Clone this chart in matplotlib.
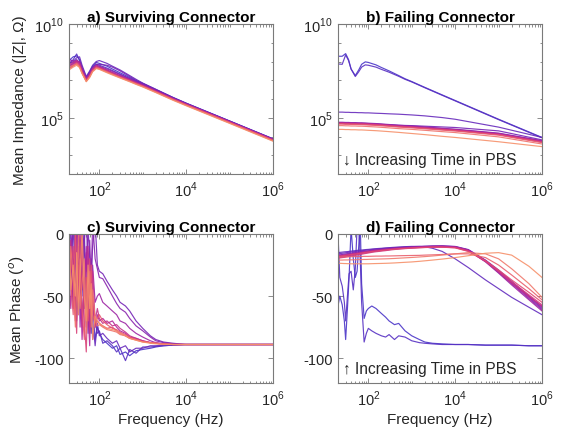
import numpy as np
import matplotlib
matplotlib.use("Agg")
import matplotlib.pyplot as plt
from matplotlib.colors import LinearSegmentedColormap
from matplotlib.ticker import FixedLocator, NullFormatter, FixedFormatter

plt.rcParams['font.family'] = ['Liberation Sans', 'DejaVu Sans']
plt.rcParams['axes.unicode_minus'] = False
plt.rcParams['mathtext.fontset'] = 'custom'
plt.rcParams['mathtext.rm'] = 'Liberation Sans'

# ---------------- data ----------------
F_MAG = [20, 25, 30, 35, 40, 50, 60, 70, 85, 100, 150, 200, 300, 500, 700,
         1e3, 2e3, 5e3, 1e4, 1e5, 1e6]

# log10(|Z|) surviving connector
A_LOGZ = [
    [8.05, 8.25, 8.30, 8.10, 7.70, 7.15, 7.45, 7.75, 7.95, 7.90, 7.75, 7.60, 7.40, 7.15, 6.98, 6.82, 6.50, 6.08, 5.78, 4.83, 3.88],
    [7.85, 8.10, 8.40, 8.05, 7.60, 7.10, 7.40, 7.70, 7.85, 7.80, 7.65, 7.52, 7.33, 7.10, 6.94, 6.78, 6.47, 6.05, 5.76, 4.82, 3.87],
    [8.15, 8.00, 8.20, 8.25, 7.80, 7.20, 7.50, 7.80, 8.00, 8.05, 7.90, 7.75, 7.55, 7.25, 7.05, 6.85, 6.52, 6.08, 5.77, 4.82, 3.86],
    [7.90, 7.95, 8.10, 7.95, 7.55, 7.05, 7.35, 7.65, 7.85, 7.85, 7.80, 7.70, 7.50, 7.20, 7.00, 6.83, 6.50, 6.06, 5.76, 4.81, 3.86],
    [7.75, 7.90, 8.05, 7.90, 7.50, 7.00, 7.30, 7.60, 7.80, 7.75, 7.60, 7.48, 7.30, 7.08, 6.92, 6.76, 6.45, 6.03, 5.74, 4.80, 3.85],
    [8.00, 8.05, 7.95, 8.00, 7.65, 7.10, 7.35, 7.65, 7.80, 7.72, 7.55, 7.42, 7.25, 7.05, 6.90, 6.75, 6.44, 6.02, 5.73, 4.79, 3.84],
    [7.70, 7.85, 8.00, 7.85, 7.45, 7.00, 7.25, 7.55, 7.75, 7.70, 7.52, 7.40, 7.22, 7.02, 6.88, 6.73, 6.43, 6.01, 5.72, 4.78, 3.83],
    [7.80, 7.95, 8.05, 7.90, 7.50, 7.05, 7.30, 7.60, 7.78, 7.68, 7.50, 7.38, 7.20, 7.00, 6.86, 6.71, 6.41, 6.00, 5.71, 4.77, 3.82],
    [7.65, 7.80, 7.95, 7.80, 7.45, 6.98, 7.22, 7.52, 7.70, 7.65, 7.48, 7.35, 7.18, 6.98, 6.84, 6.70, 6.40, 5.99, 5.70, 4.76, 3.81],
    [7.60, 7.75, 7.90, 7.75, 7.40, 6.95, 7.20, 7.50, 7.68, 7.62, 7.45, 7.33, 7.16, 6.96, 6.82, 6.68, 6.38, 5.97, 5.68, 4.74, 3.79],
    [7.70, 7.80, 7.85, 7.70, 7.38, 6.95, 7.18, 7.48, 7.65, 7.60, 7.43, 7.31, 7.14, 6.94, 6.80, 6.66, 6.36, 5.95, 5.66, 4.72, 3.77],
    [7.55, 7.70, 7.80, 7.68, 7.35, 6.92, 7.15, 7.45, 7.62, 7.58, 7.40, 7.28, 7.12, 6.92, 6.78, 6.64, 6.34, 5.93, 5.64, 4.70, 3.75],
]

# log10(|Z|) failing connector
B_LOGZ = [
    [8.28, 8.28, 8.42, 8.10, 7.60, 7.25, 7.55, 7.85, 7.98, 7.95, 7.82, 7.68, 7.50, 7.25, 7.08, 6.93, 6.62, 6.22, 5.92, 4.92, 3.95],
    [7.87, 7.85, 8.35, 8.05, 7.60, 7.20, 7.45, 7.70, 7.82, 7.80, 7.70, 7.58, 7.43, 7.21, 7.05, 6.91, 6.60, 6.20, 5.90, 4.90, 3.93],
    [5.30, 5.30, 5.29, 5.29, 5.28, 5.28, 5.27, 5.27, 5.26, 5.26, 5.24, 5.23, 5.21, 5.19, 5.17, 5.15, 5.10, 5.01, 4.92, 4.50, 3.95],
    [4.70, 4.70, 4.69, 4.69, 4.69, 4.68, 4.68, 4.67, 4.67, 4.66, 4.65, 4.64, 4.62, 4.60, 4.59, 4.58, 4.55, 4.51, 4.48, 4.30, 3.82],
    [4.76, 4.76, 4.75, 4.75, 4.74, 4.74, 4.73, 4.73, 4.72, 4.71, 4.69, 4.67, 4.64, 4.60, 4.58, 4.56, 4.51, 4.44, 4.39, 4.18, 3.78],
    [4.74, 4.74, 4.73, 4.73, 4.72, 4.72, 4.71, 4.71, 4.70, 4.69, 4.67, 4.65, 4.62, 4.58, 4.56, 4.54, 4.49, 4.42, 4.37, 4.16, 3.76],
    [4.72, 4.72, 4.71, 4.71, 4.70, 4.70, 4.69, 4.69, 4.68, 4.67, 4.65, 4.63, 4.60, 4.56, 4.54, 4.52, 4.47, 4.40, 4.35, 4.14, 3.74],
    [4.71, 4.71, 4.70, 4.70, 4.69, 4.69, 4.68, 4.68, 4.67, 4.66, 4.64, 4.62, 4.59, 4.55, 4.53, 4.51, 4.46, 4.39, 4.34, 4.12, 3.72],
    [4.69, 4.69, 4.68, 4.68, 4.67, 4.67, 4.66, 4.66, 4.65, 4.64, 4.62, 4.60, 4.57, 4.53, 4.51, 4.49, 4.44, 4.37, 4.32, 4.10, 3.70],
    [4.66, 4.66, 4.65, 4.65, 4.64, 4.64, 4.63, 4.63, 4.62, 4.61, 4.59, 4.57, 4.54, 4.50, 4.48, 4.46, 4.41, 4.34, 4.29, 4.07, 3.67],
    [4.58, 4.58, 4.57, 4.57, 4.56, 4.56, 4.55, 4.55, 4.54, 4.53, 4.51, 4.49, 4.46, 4.42, 4.40, 4.38, 4.33, 4.26, 4.21, 3.98, 3.60],
    [4.38, 4.38, 4.37, 4.37, 4.36, 4.36, 4.35, 4.35, 4.34, 4.33, 4.31, 4.29, 4.26, 4.22, 4.19, 4.16, 4.10, 4.01, 3.95, 3.72, 3.46],
]

F_PH = [20, 22, 25, 28, 30, 33, 36, 40, 45, 50, 55, 60, 65, 70, 80, 90, 100, 120,
        150, 200, 250, 300, 400, 500, 700, 1000, 1500, 2000, 3000, 5000, 1e4,
        2e4, 5e4, 1e5, 2e5, 5e5, 1e6]

# phase (deg) surviving connector
C_PHASE = [
    [-40, -20, -55, -10, -60, -30, -5, -70, -40, -75, -20, -60, -80, -50, -85, -75, -80, -85, -88, -92, -90, -97, -95, -98, -94, -93, -92, -91, -90, -89.5, -89, -89, -89, -89, -89, -89, -89],
    [-30, -5, -45, 10, -35, -65, -15, -50, 5, -60, -30, -75, -55, -85, -70, -80, -78, -88, -86, -90, -95, -92, -102, -93, -96, -91, -91, -90.5, -90, -89.5, -89, -89, -89, -89, -89, -89, -89],
    [-55, -25, 5, -40, -70, -20, -50, 10, -60, -35, -80, -45, -20, -70, -90, -72, -82, -80, -84, -88, -86, -92, -90, -95, -92, -92, -90, -90, -89.5, -89, -89, -89, -89, -89, -89, -89, -89],
    [-20, 5, -30, -10, 5, -25, -40, 10, -15, -30, 5, -20, -35, -10, 10, -25, -30, -32, -38, -45, -50, -55, -58, -62, -70, -76, -82, -85, -87, -88, -89, -89, -89, -89, -89, -89, -89],
    [-10, -35, 10, -5, -30, 5, -20, -45, -5, 10, -25, -5, -40, 10, -20, -28, -35, -36, -42, -50, -56, -60, -63, -68, -74, -78, -83, -86, -87.5, -88.5, -89, -89, -89, -89, -89, -89, -89],
    [-45, -15, -60, 0, -40, -10, -75, -30, -55, -15, -70, -40, -65, -25, -55, -50, -48, -55, -58, -62, -65, -70, -72, -76, -80, -83, -86, -87.5, -88.5, -89, -89, -89, -89, -89, -89, -89, -89],
    [-35, -60, -20, -70, 5, -50, -30, -85, -45, -10, -65, -90, -40, -60, -75, -65, -70, -68, -72, -70, -75, -78, -80, -83, -84, -86, -87.5, -88, -88.5, -89, -89, -89, -89, -89, -89, -89, -89],
    [-25, -5, -50, -65, -15, -40, 10, -75, -35, -60, -10, -80, -55, -30, -70, -60, -68, -72, -70, -74, -73, -76, -79, -82, -84, -86, -87.5, -88, -88.5, -89, -89, -89, -89, -89, -89, -89, -89],
    [-60, -30, -10, -55, -80, -25, -45, -5, -70, -95, -40, -20, -65, -50, -75, -70, -72, -74, -76, -75, -78, -80, -82, -84, -85, -86.5, -87.5, -88, -88.5, -89, -89, -89, -89, -89, -89, -89, -89],
    [-15, -40, -65, 5, -30, -55, -20, -60, -85, -35, -70, -50, -25, -65, -72, -68, -65, -70, -73, -76, -77, -79, -81, -83, -85, -86.5, -87.5, -88, -88.5, -89, -89, -89, -89, -89, -89, -89, -89],
    [-50, -10, -35, -75, -45, 0, -60, -40, -20, -80, -55, -30, -75, -45, -68, -74, -73, -75, -77, -78, -79, -81, -82, -84, -85.5, -87, -87.5, -88, -88.5, -89, -89, -89, -89, -89, -89, -89, -89],
    [-5, -45, -25, -50, -15, -65, -35, 5, -50, -70, -25, -60, -40, -85, -66, -70, -72, -74, -76, -77, -78, -80, -82, -84, -85.5, -87, -88, -88.5, -89, -89, -89, -89, -89, -89, -89, -89, -89],
]

# phase (deg) failing connector
D_PHASE = [
    [-58, -50, -57, -70, -85, -60, -35, 5, -20, -35, -30, -10, 10, -40, -68, -62, -60, -58, -60, -64, -67, -70, -73, -72, -78, -82, -85, -87, -88, -88.5, -89, -89, -89.5, -89.5, -89.5, -90, -90],
    [0, -35, -42, -55, -70, -50, -32, -30, -45, -28, 5, 10, -20, -55, -87, -80, -76, -78, -80, -82, -83, -81, -85, -82, -83, -86, -87.5, -88, -88.5, -89, -89, -89, -89.5, -89.5, -89.5, -90, -90],
    [-15, -14.8, -14.6, -14.4, -14.3, -14.2, -14, -13.8, -13.6, -13.4, -13.2, -13.1, -13, -12.9, -12.7, -12.5, -12.4, -12.1, -11.8, -11.5, -11.2, -11, -10.7, -10.5, -10.2, -10, -10, -10.3, -11.5, -14, -20, -27, -37, -44, -51, -59, -65],
    [-16, -15.8, -15.5, -15.3, -15.1, -14.9, -14.7, -14.5, -14.3, -14.1, -13.9, -13.8, -13.6, -13.5, -13.2, -13, -12.8, -12.5, -12.2, -11.8, -11.5, -11.3, -11, -10.8, -10.5, -10.2, -10, -9.8, -9.6, -9.5, -10, -12.5, -21, -29, -38, -50, -59],
    [-17, -16.8, -16.5, -16.2, -16, -15.8, -15.6, -15.4, -15.1, -14.9, -14.7, -14.5, -14.4, -14.2, -13.9, -13.7, -13.5, -13.1, -12.7, -12.3, -12, -11.7, -11.3, -11.1, -10.8, -10.5, -10.2, -10, -9.8, -9.7, -10.2, -12.8, -21.5, -30, -39, -51, -60],
    [-18, -17.8, -17.5, -17.2, -17, -16.8, -16.5, -16.3, -16, -15.8, -15.5, -15.3, -15.1, -14.9, -14.6, -14.3, -14.1, -13.7, -13.3, -12.8, -12.5, -12.2, -11.8, -11.5, -11.1, -10.8, -10.5, -10.3, -10.1, -10, -10.5, -13, -22, -31, -40, -52, -61],
    [-18.5, -18.2, -18, -17.7, -17.5, -17.2, -17, -16.7, -16.4, -16.1, -15.9, -15.7, -15.5, -15.3, -15, -14.7, -14.5, -14, -13.6, -13.1, -12.8, -12.4, -12, -11.7, -11.3, -11, -10.7, -10.5, -10.3, -10.2, -10.6, -13.2, -22.5, -31.5, -41, -53, -62],
    [-17.5, -17.3, -17, -16.8, -16.6, -16.4, -16.2, -16, -15.7, -15.5, -15.3, -15.1, -14.9, -14.7, -14.4, -14.1, -13.9, -13.5, -13.1, -12.6, -12.3, -12, -11.6, -11.3, -11, -10.7, -10.4, -10.2, -10, -9.9, -10.3, -12.9, -21.5, -30, -39, -50, -58],
    [-19, -18.8, -18.5, -18.2, -18, -17.7, -17.5, -17.2, -16.9, -16.6, -16.3, -16.1, -15.9, -15.7, -15.3, -15, -14.8, -14.3, -13.8, -13.3, -12.9, -12.6, -12.1, -11.8, -11.4, -11.1, -10.8, -10.6, -10.4, -10.3, -10.8, -13.5, -22, -30.5, -39.5, -50.5, -58.5],
    [-19.5, -19.3, -19, -18.8, -18.6, -18.3, -18.1, -17.8, -17.5, -17.2, -16.9, -16.7, -16.5, -16.3, -15.9, -15.6, -15.3, -14.8, -14.3, -13.8, -13.4, -13, -12.5, -12.2, -11.8, -11.4, -11.1, -10.9, -10.7, -10.6, -11, -13.8, -22, -30, -38.5, -49, -57],
    [-18, -17.8, -17.6, -17.4, -17.2, -17, -16.8, -16.6, -16.3, -16.1, -15.9, -15.7, -15.5, -15.3, -15, -14.7, -14.5, -14.1, -13.7, -13.2, -12.9, -12.6, -12.2, -11.9, -11.6, -11.3, -11, -10.8, -10.6, -10.6, -11.2, -14, -21.5, -29, -37, -47, -55],
    [-18.5, -18.5, -18.4, -18.4, -18.4, -18.3, -18.3, -18.3, -18.2, -18.2, -18.2, -18.1, -18.1, -18.1, -18, -18, -18, -17.9, -17.8, -17.8, -17.7, -17.7, -17.6, -17.5, -17.4, -17.3, -17.2, -17, -16.8, -16.5, -16, -16, -19, -25, -33, -44, -53],
    [-21, -21, -21, -20.9, -20.9, -20.9, -20.8, -20.8, -20.8, -20.7, -20.7, -20.6, -20.6, -20.6, -20.5, -20.5, -20.4, -20.3, -20.2, -20.1, -20, -19.9, -19.7, -19.5, -19.2, -18.9, -18.5, -18.2, -17.7, -17, -16, -15, -16, -20, -28, -40, -51],
    [-23.5, -23.6, -23.7, -23.8, -23.8, -23.9, -23.9, -24, -24, -24, -24, -24, -24, -24, -24, -24, -24, -23.9, -23.8, -23.7, -23.6, -23.5, -23.3, -23.1, -22.8, -22.5, -22, -21.6, -21, -20.2, -19, -17.5, -15.5, -15, -17, -26, -35],
]

TITLES = ["a) Surviving Connector", "b) Failing Connector",
          "c) Surviving Connector", "d) Failing Connector"]
XTICK_LABELS = [r"$10^{2}$", r"$10^{4}$", r"$10^{6}$"]
ZTICK_LABELS = [r"$10^{5}$", r"$10^{10}$"]
PTICK_LABELS = ["0", "-50", "-100"]

# ---------------- style ----------------
cmap = LinearSegmentedColormap.from_list(
    "time", [(0.0, "#4a35c8"), (0.3, "#7a22b4"), (0.55, "#b3259a"),
             (0.78, "#e4496f"), (1.0, "#f6906a")])
GRAY = "#7a7a7a"
TXT = "#262626"

fig = plt.figure(figsize=(5.63, 4.35), dpi=100)
W = 204 / 563
H = 150 / 435
pos = {
    0: [69 / 563, 1 - 175 / 435, W, H],
    1: [338 / 563, 1 - 175 / 435, W, H],
    2: [69 / 563, 1 - 384 / 435, W, 149 / 435],
    3: [338 / 563, 1 - 384 / 435, W, 149 / 435],
}
axes = [fig.add_axes(pos[i]) for i in range(4)]


def draw(ax, xs, rows, log):
    n = len(rows)
    for i, r in enumerate(rows):
        c = cmap(i / (n - 1))
        y = np.power(10.0, r) if log else np.asarray(r)
        ax.plot(xs, y, color=c, lw=0.85, alpha=0.9)


draw(axes[0], F_MAG, A_LOGZ, True)
draw(axes[1], F_MAG, B_LOGZ, True)
draw(axes[2], F_PH, C_PHASE, False)
draw(axes[3], F_PH, D_PHASE, False)

for k, ax in enumerate(axes):
    ax.set_xscale("log")
    ax.set_xlim(20, 1e6)
    ax.xaxis.set_major_locator(FixedLocator([1e2, 1e4, 1e6]))
    ax.xaxis.set_major_formatter(FixedFormatter(XTICK_LABELS))
    ax.xaxis.set_minor_locator(FixedLocator([1e3, 1e5] + [m * 10 ** e for e in range(1, 6) for m in range(2, 10)]))
    ax.xaxis.set_minor_formatter(NullFormatter())
    if k < 2:
        ax.set_yscale("log")
        ax.set_ylim(1e2, 1e10)
        ax.yaxis.set_major_locator(FixedLocator([1e5, 1e10]))
        ax.yaxis.set_major_formatter(FixedFormatter(ZTICK_LABELS))
        ax.yaxis.set_minor_locator(FixedLocator([10.0 ** e for e in range(2, 11)]))
        ax.yaxis.set_minor_formatter(NullFormatter())
    else:
        ax.set_ylim(-120, 0)
        ax.yaxis.set_major_locator(FixedLocator([0, -50, -100]))
        ax.yaxis.set_major_formatter(FixedFormatter(PTICK_LABELS))
    for s in ax.spines.values():
        s.set_color(GRAY)
        s.set_linewidth(0.8)
    ax.tick_params(which="both", direction="in", top=True, right=True,
                   color=GRAY, labelcolor=TXT, labelsize=10.5, width=0.6)
    ax.tick_params(which="major", length=3.5, pad=4)
    ax.tick_params(which="minor", length=1.8)
    ax.set_title(TITLES[k], fontsize=11, fontweight="bold", color="black", pad=2)

axes[0].set_ylabel("Mean Impedance (|Z|, Ω)", fontsize=11, color=TXT, labelpad=5)
axes[2].set_ylabel("Mean Phase ($^{o}$)", fontsize=11, color=TXT, labelpad=5)
axes[2].set_xlabel("Frequency (Hz)", fontsize=11, color=TXT, labelpad=3)
axes[3].set_xlabel("Frequency (Hz)", fontsize=11, color=TXT, labelpad=3)

axes[1].text(0.025, 0.05, "↓ Increasing Time in PBS", transform=axes[1].transAxes,
             fontsize=11.2, color=TXT, ha="left", va="bottom")
axes[3].text(0.025, 0.05, "↑ Increasing Time in PBS", transform=axes[3].transAxes,
             fontsize=11.2, color=TXT, ha="left", va="bottom")

fig.savefig("out.png", dpi=100, facecolor="white")
